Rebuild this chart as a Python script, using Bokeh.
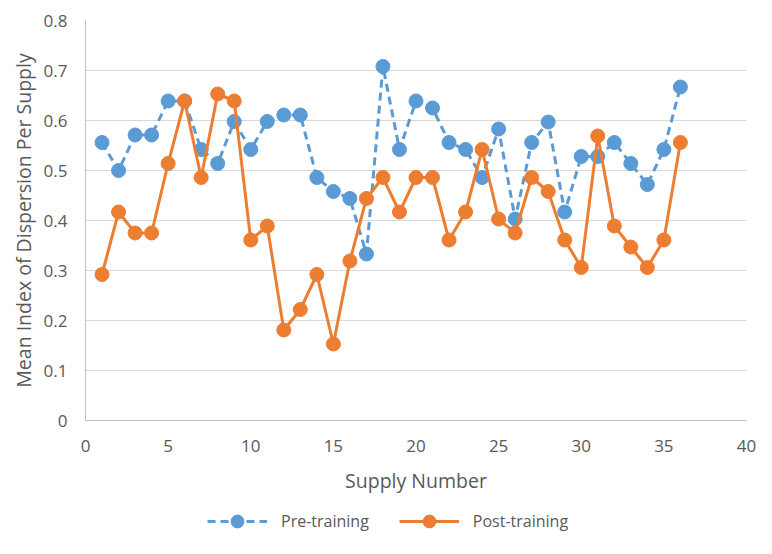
from bokeh.plotting import figure
from bokeh.models import Legend, LegendItem, FixedTicker
from bokeh.layouts import column
from bokeh.embed import file_html
from bokeh.resources import INLINE

supply = list(range(1, 37))
pre_training = [0.556, 0.500, 0.571, 0.571, 0.639, 0.639, 0.542, 0.514, 0.598, 0.542,
                0.598, 0.611, 0.611, 0.486, 0.458, 0.444, 0.333, 0.708, 0.542, 0.639,
                0.625, 0.556, 0.542, 0.486, 0.583, 0.403, 0.556, 0.597, 0.417, 0.528,
                0.528, 0.556, 0.514, 0.472, 0.542, 0.667]
post_training = [0.292, 0.417, 0.375, 0.375, 0.514, 0.639, 0.486, 0.653, 0.639, 0.361,
                 0.389, 0.181, 0.222, 0.292, 0.153, 0.319, 0.444, 0.486, 0.417, 0.486,
                 0.486, 0.361, 0.417, 0.542, 0.403, 0.375, 0.486, 0.458, 0.361, 0.306,
                 0.569, 0.389, 0.347, 0.306, 0.361, 0.556]
x_ticks = [0, 5, 10, 15, 20, 25, 30, 35, 40]
y_ticks = [0, 0.1, 0.2, 0.3, 0.4, 0.5, 0.6, 0.7, 0.8]
y_tick_labels = ["0", "0.1", "0.2", "0.3", "0.4", "0.5", "0.6", "0.7", "0.8"]

BLUE = "#5b9bd5"
ORANGE = "#ed7d31"
TXT = "#595959"
FONT = "Open Sans"


def draw_series(fig):
    l1 = fig.line(supply, pre_training, line_color=BLUE, line_width=3, line_dash="8 5")
    s1 = fig.scatter(supply, pre_training, size=14, fill_color=BLUE, line_color=BLUE)
    l2 = fig.line(supply, post_training, line_color=ORANGE, line_width=3)
    s2 = fig.scatter(supply, post_training, size=14, fill_color=ORANGE, line_color=ORANGE)
    return l1, s1, l2, s2


p = figure(width=756, height=498, x_range=(0, 40), y_range=(0, 0.8),
           output_backend="svg", toolbar_location=None,
           min_border_left=85, min_border_right=10, min_border_top=20, min_border_bottom=78)
p.outline_line_color = None
p.background_fill_color = "white"

p.xaxis.ticker = FixedTicker(ticks=x_ticks)
p.yaxis.ticker = FixedTicker(ticks=y_ticks)
p.yaxis.major_label_overrides = {v: s for v, s in zip(y_ticks, y_tick_labels)}
p.xgrid.grid_line_color = None
p.ygrid.grid_line_color = "#d9d9d9"
p.ygrid.grid_line_width = 1

for ax in (p.xaxis, p.yaxis):
    ax.axis_line_color = "#bfbfbf"
    ax.axis_line_width = 1
    ax.major_tick_line_color = None
    ax.minor_tick_line_color = None
    ax.major_label_text_font = FONT
    ax.major_label_text_font_size = "17px"
    ax.major_label_text_color = TXT
    ax.axis_label_text_font = FONT
    ax.axis_label_text_font_size = "19.5px"
    ax.axis_label_text_color = TXT
    ax.axis_label_text_font_style = "normal"

p.xaxis.axis_label = "Supply Number"
p.yaxis.axis_label = "Mean Index of Dispersion Per Supply"
p.xaxis.major_label_standoff = 13
p.yaxis.major_label_standoff = 12
p.xaxis.axis_label_standoff = 12
p.yaxis.axis_label_standoff = 4

draw_series(p)

# Legend strip: same series drawn outside its visible range, only the legend shows
lg = figure(width=756, height=40, x_range=(100, 101), y_range=(100, 101),
            output_backend="svg", toolbar_location=None,
            min_border=0, x_axis_type=None, y_axis_type=None)
lg.outline_line_color = None
lg.xgrid.grid_line_color = None
lg.ygrid.grid_line_color = None
a1, b1, a2, b2 = draw_series(lg)

legend = Legend(items=[LegendItem(label="Pre-training", renderers=[a1, b1]),
                       LegendItem(label="Post-training", renderers=[a2, b2])],
                orientation="horizontal", location=(122, 1))
legend.border_line_color = None
legend.background_fill_alpha = 0
legend.label_text_font = FONT
legend.label_text_font_size = "16px"
legend.label_text_color = TXT
legend.glyph_width = 60
legend.glyph_height = 32
legend.label_height = 20
legend.label_standoff = 14
legend.spacing = 30
legend.margin = 0
legend.padding = 2
legend.click_policy = "none"
lg.add_layout(legend, "center")

layout = column(p, lg, spacing=0)
open("out.html", "w").write(file_html(layout, INLINE))
